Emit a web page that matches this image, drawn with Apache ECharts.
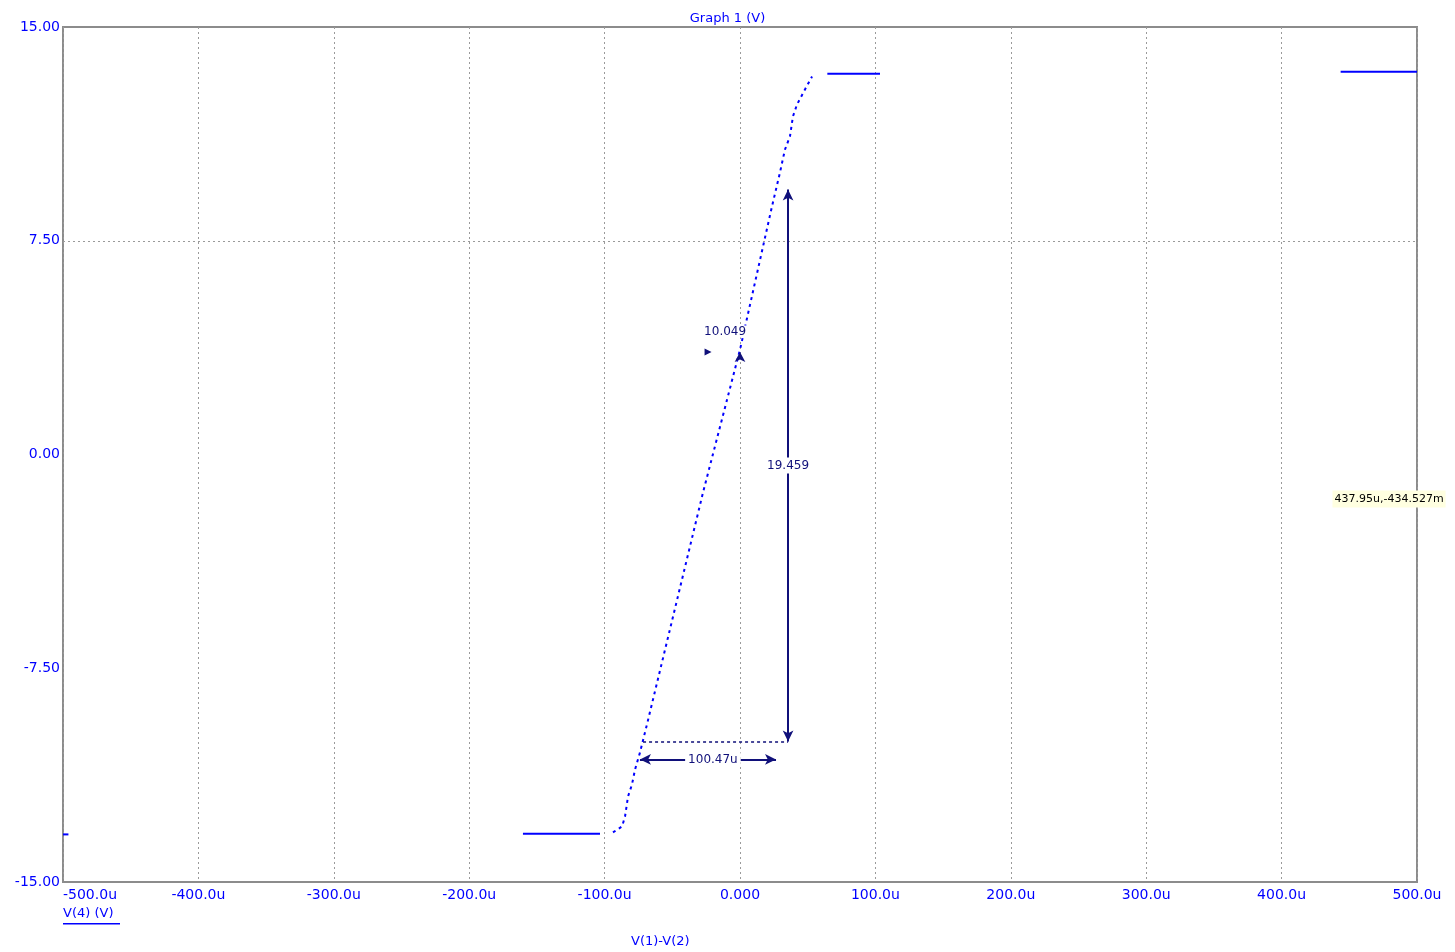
<!DOCTYPE html>
<html>
<head>
<meta charset="utf-8">
<script src="https://cdn.jsdelivr.net/npm/echarts@6/dist/echarts.min.js"></script>
<style>
html,body{margin:0;padding:0;background:#fff;}
#chart{width:1455px;height:952px;}
</style>
</head>
<body>
<div id="chart"></div>
<script>
// ---- data (x in micro-units, y in volts) ----
const xTicks = [-500, -400, -300, -200, -100, 0, 100, 200, 300, 400, 500];
const xTickLabels = ['-500.0u', '-400.0u', '-300.0u', '-200.0u', '-100.0u', '0.000', '100.0u', '200.0u', '300.0u', '400.0u', '500.0u'];
const yTicks = [-15, -7.5, 0, 7.5, 15];
const yTickLabels = ['-15.00', '-7.50', '0.00', '7.50', '15.00'];

const leftStub = [[-500, -13.33], [-496, -13.33]];
const leftFlat = [[-160.3, -13.31], [-103.4, -13.31]];
const transition = [
  [-93.8, -13.26], [-87.1, -13.05], [-84.9, -12.70], [-82.7, -12.00], [-79.8, -11.58],
  [-77.5, -11.05], [-73.9, -10.46], [-68.7, -9.47], [-27.3, -1.33], [0, 3.68],
  [23.6, 8.70], [29.5, 9.89], [33.2, 10.70], [36.9, 11.16], [39.1, 11.86],
  [42.1, 12.28], [48.0, 12.81], [53.2, 13.26]
];
const rightFlat1 = [[64.5, 13.36], [103.4, 13.36]];
const rightFlat2 = [[443.6, 13.43], [500, 13.43]];

const titleText = 'Graph 1 (V)';
const xAxisName = 'V(1)-V(2)';
const yLegendName = 'V(4) (V)';
const gridY = 7.5;

// measurement annotations
const vMeasure = { x: 35.5, y1: -10.07, y2: 9.30, label: '19.459', labelY: -0.39 };
const hDotted = { x1: -71.6, x2: 35.5, y: -10.07 };
const hMeasure = { x1: -73.9, x2: 26.6, y: -10.70, label: '100.47u', labelX: -20 };
const smallMeasure = { x1: -23.6, x2: 0, y: 3.60, label: '10.049', labelX: -11, labelY: 4.32 };
const cursor = { x: 437.95, y: -0.4345, label: '437.95u,-434.527m' };

const BLUE = '#0000ff';
const NAVY = '#10107a';
const FONT = 'DejaVu Sans';

const chart = echarts.init(document.getElementById('chart'));

function lineSeries(data, dotted) {
  return {
    type: 'line', data: data, showSymbol: false, symbol: 'none', silent: true,
    lineStyle: { color: BLUE, width: 2, type: dotted ? [3, 4] : 'solid' },
    animation: false, z: 3
  };
}

const option = {
  animation: false,
  backgroundColor: '#ffffff',
  title: [{
    text: titleText, left: 'center', top: 7,
    textStyle: { color: BLUE, fontSize: 13, fontWeight: 'normal', fontFamily: FONT }
  }, {
    text: xAxisName, left: 626, top: 930,
    textStyle: { color: BLUE, fontSize: 13, fontWeight: 'normal', fontFamily: FONT }
  }],
  grid: {
    left: 63, right: 38, top: 27, bottom: 70,
    show: true, borderColor: '#8c8c8c', borderWidth: 2, backgroundColor: 'transparent'
  },
  xAxis: {
    type: 'value', min: -500, max: 500, interval: 100,
    axisLine: { show: false }, axisTick: { show: false },
    splitLine: { show: true, lineStyle: { color: '#9a9a9a', width: 1, type: [2, 3] } },
    axisLabel: {
      color: BLUE, fontSize: 14, fontFamily: FONT, margin: 6,
      alignMinLabel: 'left',
      formatter: function (v) {
        const i = xTicks.findIndex(t => Math.abs(t - v) < 1e-6);
        return i >= 0 ? xTickLabels[i] : '';
      }
    }
  },
  yAxis: {
    type: 'value', min: -15, max: 15, interval: 7.5,
    axisLine: { show: false }, axisTick: { show: false },
    splitLine: { show: false },
    axisLabel: {
      color: BLUE, fontSize: 14, fontFamily: FONT, margin: 3,
      formatter: function (v) {
        const i = yTicks.findIndex(t => Math.abs(t - v) < 1e-6);
        return i >= 0 ? yTickLabels[i] : '';
      }
    }
  },
  graphic: [{
    type: 'group', left: 63, top: 907,
    children: [
      { type: 'text', style: { text: yLegendName, fill: BLUE, font: '13px "DejaVu Sans"' } },
      { type: 'rect', shape: { x: 0, y: 16, width: 57, height: 1.5 }, style: { fill: BLUE } }
    ]
  }],
  series: [
    // horizontal grid line at 7.5
    {
      type: 'line', data: [], silent: true, animation: false,
      markLine: {
        silent: true, symbol: ['none', 'none'], animation: false,
        lineStyle: { color: '#9a9a9a', width: 1, type: [2, 3] },
        label: { show: false },
        data: [{ yAxis: gridY }]
      }
    },
    lineSeries(leftStub, false),
    lineSeries(leftFlat, false),
    lineSeries(transition, true),
    lineSeries(rightFlat1, false),
    lineSeries(rightFlat2, false),
    // annotations
    {
      type: 'line', data: [], silent: true, animation: false, z: 5,
      markLine: {
        silent: true, animation: false, symbolSize: [8, 11],
        label: { show: false },
        data: [
          [{ coord: [vMeasure.x, vMeasure.y1], symbol: 'arrow', lineStyle: { color: NAVY, width: 2, type: 'solid' } },
           { coord: [vMeasure.x, vMeasure.y2], symbol: 'arrow' }],
          [{ coord: [hDotted.x1, hDotted.y], symbol: 'none', lineStyle: { color: NAVY, width: 1.5, type: [3, 3] } },
           { coord: [hDotted.x2, hDotted.y], symbol: 'none' }],
          [{ coord: [hMeasure.x1, hMeasure.y], symbol: 'arrow', lineStyle: { color: NAVY, width: 2, type: 'solid' } },
           { coord: [hMeasure.x2, hMeasure.y], symbol: 'arrow' }]
        ]
      },
      markPoint: {
        silent: true, animation: false,
        data: [
          { coord: [vMeasure.x, vMeasure.labelY], symbol: 'rect', symbolSize: 0,
            label: { show: true, formatter: vMeasure.label, color: NAVY, fontSize: 12, fontFamily: FONT,
                     backgroundColor: '#ffffff', padding: [2, 1], position: 'inside' } },
          { coord: [hMeasure.labelX, hMeasure.y], symbol: 'rect', symbolSize: 0,
            label: { show: true, formatter: hMeasure.label, color: NAVY, fontSize: 12, fontFamily: FONT,
                     backgroundColor: '#ffffff', padding: [1, 3], position: 'inside' } },
          { coord: [smallMeasure.labelX, smallMeasure.labelY], symbol: 'rect', symbolSize: 0,
            label: { show: true, formatter: smallMeasure.label, color: NAVY, fontSize: 12, fontFamily: FONT,
                     backgroundColor: '#ffffff', padding: [0, 1], position: 'inside' } },
          { coord: [smallMeasure.x1, smallMeasure.y], symbol: 'triangle', symbolRotate: -90, symbolSize: 7,
            itemStyle: { color: NAVY }, label: { show: false } },
          { coord: [smallMeasure.x2, smallMeasure.y], symbol: 'arrow', symbolSize: [8, 10],
            itemStyle: { color: NAVY }, label: { show: false } },
          { coord: [cursor.x, cursor.y], symbol: 'rect', symbolSize: 1, itemStyle: { color: 'transparent' },
            label: { show: true, formatter: cursor.label, color: '#000000', fontSize: 11, fontFamily: FONT,
                     backgroundColor: '#ffffe0', borderColor: '#000', borderWidth: 0,
                     padding: [3, 2, 3, 2], position: [0, 24], align: 'left', verticalAlign: 'top' } }
        ]
      }
    }
  ]
};
chart.setOption(option);
</script>
</body>
</html>
